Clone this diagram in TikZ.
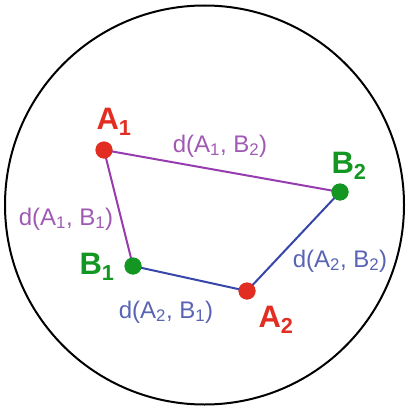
\documentclass[tikz,border=0pt]{standalone}
\usepackage{fontspec}
\setmainfont{Liberation Sans}
\definecolor{ptred}{RGB}{226,45,35}
\definecolor{ptgreen}{RGB}{20,150,35}
\definecolor{edgepurple}{RGB}{150,60,175}
\definecolor{edgeblue}{RGB}{55,70,170}
\definecolor{txtpurple}{RGB}{160,90,180}
\definecolor{txtblue}{RGB}{90,100,180}
\tikzset{
  dot/.style={circle, fill=#1, inner sep=0pt, minimum size=17pt},
  ptlabel/.style={text=#1, font=\fontsize{31}{32}\selectfont\bfseries, inner sep=0pt},
  dlabel/.style={text=#1, font=\fontsize{24}{26}\selectfont, inner sep=0pt},
}
\begin{document}
\begin{tikzpicture}[x=1pt, y=-1pt]
    \useasboundingbox (0,0) rectangle (407,409);

    % Circle
    \draw[line width=2pt] (204.5,205) circle (199.5);

    % Points
    \node[dot=ptred] (a1) at (104,150) {};
    \node[dot=ptgreen] (b2) at (340,192) {};
    \node[dot=ptgreen] (b1) at (133,266) {};
    \node[dot=ptred] (a2) at (247,291) {};

    % Distances
    \draw[edgepurple, line width=2pt] (a1.center) -- (b2.center);
    \draw[edgepurple, line width=2pt] (a1.center) -- (b1.center);
    \draw[edgeblue, line width=2pt] (b1.center) -- (a2.center);
    \draw[edgeblue, line width=2pt] (a2.center) -- (b2.center);
    \foreach \p/\c in {a1/ptred, b2/ptgreen, b1/ptgreen, a2/ptred}
        \node[dot=\c] at (\p) {};

    % Point names
    \node[ptlabel=ptred] (a1name) at (114,122) {A\textsubscript{1}};
    \node[ptlabel=ptgreen] (b2name) at (349,166) {B\textsubscript{2}};
    \node[ptlabel=ptgreen] (b1name) at (97,267) {B\textsubscript{1}};
    \node[ptlabel=ptred] (a2name) at (276,320) {A\textsubscript{2}};

    % Distance labels
    \node[dlabel=txtpurple] (d12) at (220,146) {d(A\textsubscript{1}, B\textsubscript{2})};
    \node[dlabel=txtpurple] (d11) at (66,219) {d(A\textsubscript{1}, B\textsubscript{1})};
    \node[dlabel=txtblue] (d21) at (166,312) {d(A\textsubscript{2}, B\textsubscript{1})};
    \node[dlabel=txtblue] (d22) at (340,261) {d(A\textsubscript{2}, B\textsubscript{2})};
\end{tikzpicture}
\end{document}
